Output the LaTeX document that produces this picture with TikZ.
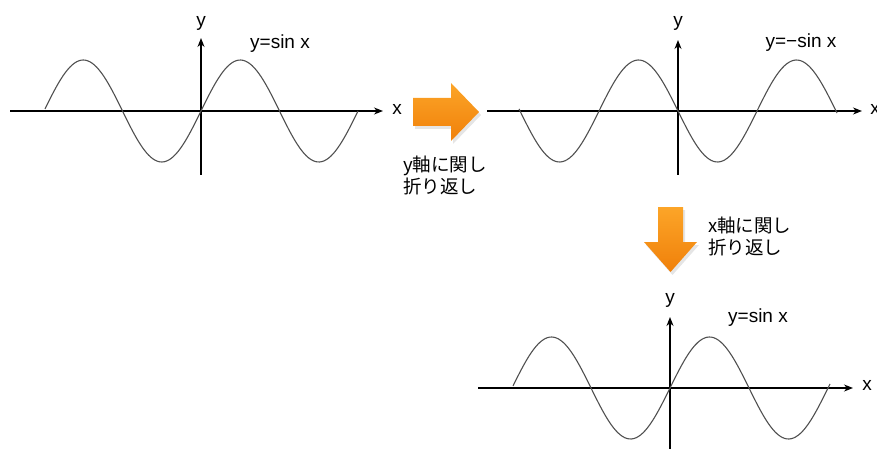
\documentclass[tikz,border=0pt]{standalone}
\usepackage{fontspec}
\setmainfont{Liberation Sans}
\newfontfamily\cjk{Noto Sans CJK JP}
\usetikzlibrary{arrows.meta}
\definecolor{ortop}{RGB}{252,165,40}
\definecolor{orbot}{RGB}{240,128,10}
\definecolor{wavegray}{RGB}{80,80,80}
\begin{document}
\begin{tikzpicture}[x=1pt,y=-1pt,
  axis/.style={line width=1.3pt,-{Stealth[length=9pt,width=7pt]}},
  wave/.style={line width=1.1pt,draw=wavegray},
  lbl/.style={font=\fontsize{19}{22}\selectfont,inner sep=0pt},
  note/.style={font=\cjk\fontsize{18.5}{22}\selectfont,align=left,inner sep=0pt,anchor=north west},
  bigarrow/.style={top color=ortop,bottom color=orbot,draw=none},
  shadowfill/.style={fill=black,opacity=0.10,draw=none}]
\useasboundingbox (0,0) rectangle (877,449);
% ---------- graph 1 ----------
\begin{scope}[shift={(201,111)}]
  \coordinate (a1b) at (0,64);  \coordinate (a1t) at (0,-73);
  \coordinate (a1l) at (-191,0); \coordinate (a1r) at (182,0);
  \draw[axis] (a1b) -- (a1t);
  \draw[axis] (a1l) -- (a1r);
  \draw[wave] plot[domain=-156:157,samples=140,smooth] (\x,{-51*sin(\x/157*360)});
  \node[lbl] (y1) at (0,-88) {y};
  \node[lbl] (x1) at (196,-2) {x};
  \node[lbl] (f1) at (79,-67) {y=sin x};
\end{scope}
% ---------- graph 2 ----------
\begin{scope}[shift={(678,111)}]
  \coordinate (a2b) at (0,64);  \coordinate (a2t) at (0,-71);
  \coordinate (a2l) at (-191,0); \coordinate (a2r) at (184,0);
  \draw[axis] (a2b) -- (a2t);
  \draw[axis] (a2l) -- (a2r);
  \draw[wave] plot[domain=-159:159,samples=140,smooth] (\x,{51*sin(\x/158*360)});
  \node[lbl] (y2) at (0,-88) {y};
  \node[lbl] (x2) at (197,-2) {x};
  \node[lbl] (f2) at (123,-68) {y=−sin x};
\end{scope}
% ---------- graph 3 ----------
\begin{scope}[shift={(670,388)}]
  \coordinate (a3b) at (0,62);  \coordinate (a3t) at (0,-71);
  \coordinate (a3l) at (-192,0); \coordinate (a3r) at (183,0);
  \draw[axis] (a3b) -- (a3t);
  \draw[axis] (a3l) -- (a3r);
  \draw[wave] plot[domain=-157:160,samples=140,smooth] (\x,{-51*sin(\x/158*360)});
  \node[lbl] (y3) at (0,-88) {y};
  \node[lbl] (x3) at (197,-3) {x};
  \node[lbl] (f3) at (88,-70) {y=sin x};
\end{scope}
% ---------- orange arrows ----------
\fill[shadowfill] (415,101) -- (453,101) -- (453,86) -- (481,115) -- (453,144) -- (453,129) -- (415,129) -- cycle;
\shade[bigarrow] (413,98) -- (451,98) -- (451,83) -- (479,112) -- (451,141) -- (451,126) -- (413,126) -- cycle;
\fill[shadowfill] (660,210) -- (685,210) -- (685,245) -- (699,245) -- (672.5,275) -- (646,245) -- (660,245) -- cycle;
\shade[bigarrow] (658,207) -- (683,207) -- (683,242) -- (697,242) -- (670.5,272) -- (644,242) -- (658,242) -- cycle;
% ---------- notes ----------
\node[note] (n1) at (403,156) {y軸に関し\\折り返し};
\node[note] (n2) at (708,217) {x軸に関し\\折り返し};
\end{tikzpicture}
\end{document}
